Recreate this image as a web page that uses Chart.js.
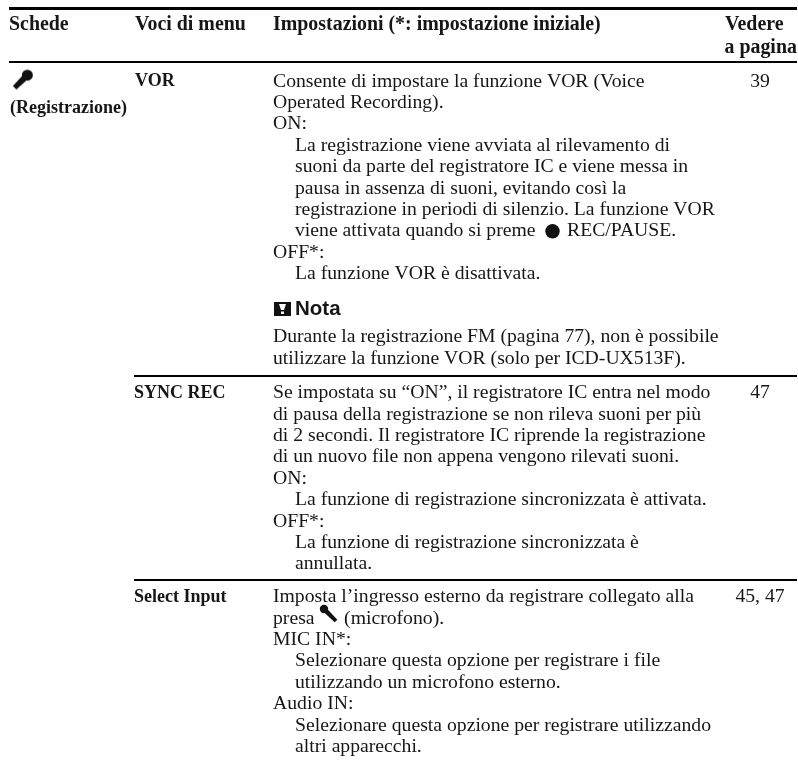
<!DOCTYPE html>
<html lang="it">
<head>
<meta charset="UTF-8">
<title>Voci di menu</title>
<script src="https://cdn.jsdelivr.net/npm/chart.js"></script>
<style>
    html, body { margin: 0; padding: 0; background: #fff; }
    canvas { display: block; }
</style>
</head>
<body>
<canvas id="tabella" width="798" height="760"></canvas>
<script>
// Testi della tabella
const headers = ["Schede", "Voci di menu", "Impostazioni (*: impostazione iniziale)"];
const headerPage = ["Vedere", "a pagina"];
const tabName = "(Registrazione)";
const menuItems = ["VOR", "SYNC REC", "Select Input"];
const pageRefs = ["39", "47", "45, 47"];
const noteTitle = "Nota";
const noteLines = [
    "Durante la registrazione FM (pagina 77), non è possibile",
    "utilizzare la funzione VOR (solo per ICD-UX513F)."
];
const recLabel = "REC/PAUSE.";
// [testo, rientro 0/1]
const vorLines = [
    ["Consente di impostare la funzione VOR (Voice", 0],
    ["Operated Recording).", 0],
    ["ON:", 0],
    ["La registrazione viene avviata al rilevamento di", 1],
    ["suoni da parte del registratore IC e viene messa in", 1],
    ["pausa in assenza di suoni, evitando così la", 1],
    ["registrazione in periodi di silenzio. La funzione VOR", 1],
    ["viene attivata quando si preme", 1],
    ["OFF*:", 0],
    ["La funzione VOR è disattivata.", 1]
];
const syncLines = [
    ["Se impostata su “ON”, il registratore IC entra nel modo", 0],
    ["di pausa della registrazione se non rileva suoni per più", 0],
    ["di 2 secondi. Il registratore IC riprende la registrazione", 0],
    ["di un nuovo file non appena vengono rilevati suoni.", 0],
    ["ON:", 0],
    ["La funzione di registrazione sincronizzata è attivata.", 1],
    ["OFF*:", 0],
    ["La funzione di registrazione sincronizzata è", 1],
    ["annullata.", 1]
];
const inputLines = [
    ["Imposta l’ingresso esterno da registrare collegato alla", 0],
    ["presa      (microfono).", 0],
    ["MIC IN*:", 0],
    ["Selezionare questa opzione per registrare i file", 1],
    ["utilizzando un microfono esterno.", 1],
    ["Audio IN:", 0],
    ["Selezionare questa opzione per registrare utilizzando", 1],
    ["altri apparecchi.", 1]
];

// Geometria: colonne e righe in pixel del riferimento
const COL_TAB = 9, COL_MENU = 134, COL_SET = 273, COL_INDENT = 295, COL_PAGE = 760, COL_HEAD_PAGE = 725;
const LEFT = 9, RIGHT = 797;
const LINE = 21.4;
const Y_HEAD = 25, Y_HEAD2 = 48;
const Y_VOR = 81.5, Y_NOTE_T = 309, Y_NOTE = 337, Y_SYNC = 393, Y_INPUT = 597;

const SERIF = '"Liberation Serif", serif';
const BODY = '19.7px ' + SERIF;
const HEAD = 'bold 19.9px ' + SERIF;
const BOLD = 'bold 18px ' + SERIF;
const INK = '#161616';

function blockPoints(lines, y0) {
    return lines.map((l, i) => ({ x: l[1] ? COL_INDENT : COL_SET, y: y0 + i * LINE, text: l[0] }));
}
function rule(y, x0, x1, w) {
    return { data: [{ x: x0, y: y }, { x: x1, y: y }], showLine: true, borderColor: '#000', borderWidth: w, pointRadius: 0 };
}
function textSet(points, font, align) {
    return { data: points, showLine: false, pointRadius: 0, textFont: font, textAlign: align || 'left' };
}

// Icona microfono, usata come pointStyle
function micIcon(flip, head, len) {
    const c = document.createElement('canvas');
    c.width = 26; c.height = 26;
    const g = c.getContext('2d');
    g.translate(13, 13);
    if (flip) g.scale(-1, 1);
    g.rotate(Math.PI / 4);
    g.fillStyle = '#111';
    g.beginPath();
    g.arc(0, -len / 2, head, 0, Math.PI * 2);
    g.fill();
    g.beginPath();
    g.moveTo(-head * 0.55, -len / 2 + head * 0.8);
    g.lineTo(head * 0.55, -len / 2 + head * 0.8);
    g.lineTo(head * 0.45, len / 2);
    g.lineTo(-head * 0.45, len / 2);
    g.closePath();
    g.fill();
    return c;
}
// Icona della nota: quadrato nero con punto esclamativo bianco
function noteIcon() {
    const c = document.createElement('canvas');
    c.width = 17; c.height = 14;
    const g = c.getContext('2d');
    g.fillStyle = '#111';
    g.fillRect(0, 0, 17, 14);
    g.fillStyle = '#fff';
    g.beginPath();
    g.moveTo(5, 2);
    g.lineTo(12, 2);
    g.lineTo(10, 8);
    g.lineTo(7, 8);
    g.closePath();
    g.fill();
    g.fillRect(7, 9.5, 3, 2.5);
    return c;
}

// Disegna il testo di ogni dataset nella posizione data dalle scale
const textPlugin = {
    id: 'textPlugin',
    afterDatasetsDraw(chart) {
        const ctx = chart.ctx;
        chart.data.datasets.forEach((ds, i) => {
            if (!ds.textFont) return;
            const meta = chart.getDatasetMeta(i);
            ctx.save();
            ctx.font = ds.textFont;
            ctx.textAlign = ds.textAlign;
            ctx.textBaseline = 'middle';
            ctx.fillStyle = INK;
            ds.data.forEach((p, j) => {
                ctx.fillText(p.text, meta.data[j].x, meta.data[j].y);
            });
            ctx.restore();
        });
    }
};

new Chart(document.getElementById('tabella'), {
    type: 'scatter',
    data: {
        datasets: [
            rule(8.5, LEFT, RIGHT, 3),
            rule(62, LEFT, RIGHT, 2),
            rule(376, COL_MENU, RIGHT, 2),
            rule(580, COL_MENU, RIGHT, 2),
            textSet([
                { x: COL_TAB, y: Y_HEAD, text: headers[0] },
                { x: COL_MENU + 1, y: Y_HEAD, text: headers[1] },
                { x: COL_SET, y: Y_HEAD, text: headers[2] },
                { x: COL_HEAD_PAGE, y: Y_HEAD, text: headerPage[0] },
                { x: COL_HEAD_PAGE - 0.5, y: Y_HEAD2, text: headerPage[1] }
            ], HEAD),
            textSet([
                { x: COL_TAB + 1, y: 108, text: tabName },
                { x: COL_MENU + 1, y: Y_VOR, text: menuItems[0] },
                { x: COL_MENU, y: Y_SYNC, text: menuItems[1] },
                { x: COL_MENU, y: Y_INPUT, text: menuItems[2] }
            ], BOLD),
            textSet(blockPoints(vorLines, Y_VOR), BODY),
            textSet([{ x: 567, y: Y_VOR + 7 * LINE, text: recLabel }], BODY),
            textSet(blockPoints(syncLines, Y_SYNC), BODY),
            textSet(blockPoints(inputLines, Y_INPUT), BODY),
            textSet([
                { x: COL_SET, y: Y_NOTE, text: noteLines[0] },
                { x: COL_SET, y: Y_NOTE + LINE, text: noteLines[1] }
            ], BODY),
            textSet([{ x: COL_INDENT, y: Y_NOTE_T, text: noteTitle }], 'bold 20.5px "Liberation Sans", sans-serif'),
            textSet([
                { x: COL_PAGE, y: Y_VOR, text: pageRefs[0] },
                { x: COL_PAGE, y: Y_SYNC, text: pageRefs[1] },
                { x: COL_PAGE, y: Y_INPUT, text: pageRefs[2] }
            ], BODY, 'center'),
            { data: [{ x: 552.5, y: Y_VOR + 7 * LINE }], pointStyle: 'circle', pointRadius: 7.2, backgroundColor: '#111', borderWidth: 0, showLine: false },
            { data: [{ x: 21, y: 81.5 }], pointStyle: micIcon(false, 5.5, 18), showLine: false },
            { data: [{ x: 330, y: 615 }], pointStyle: micIcon(true, 4.2, 17), showLine: false },
            { data: [{ x: 282.5, y: 309 }], pointStyle: noteIcon(), showLine: false }
        ]
    },
    options: {
        responsive: false,
        animation: false,
        layout: { padding: 0, autoPadding: false },
        plugins: { legend: { display: false }, tooltip: { enabled: false }, title: { display: false } },
        scales: {
            x: { type: 'linear', min: 0, max: 798, display: false },
            y: { type: 'linear', min: 0, max: 760, reverse: true, display: false }
        }
    },
    plugins: [textPlugin]
});
</script>
</body>
</html>
